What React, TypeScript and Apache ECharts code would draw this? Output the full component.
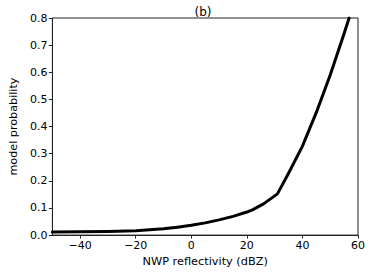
import React, { useEffect, useRef } from "react";
import * as echarts from "echarts";

const reflectivity = [-50, -40, -30, -20, -10, -5, 0, 5, 10, 15, 20, 22, 26, 31, 35, 40, 45, 50, 55, 56.8];
const probability = [0.011, 0.012, 0.013, 0.016, 0.023, 0.029, 0.036, 0.045, 0.056, 0.069, 0.085, 0.093, 0.115, 0.152, 0.228, 0.328, 0.452, 0.59, 0.743, 0.8];
const xTicks = [-40, -20, 0, 20, 40, 60];
const yTicks = [0, 0.1, 0.2, 0.3, 0.4, 0.5, 0.6, 0.7, 0.8];

export default function App() {
  const ref = useRef<HTMLDivElement>(null);
  useEffect(() => {
    if (!ref.current) return;
    const chart = echarts.init(ref.current, undefined, { renderer: "svg" });
    const font = "DejaVu Sans";
    chart.setOption({
      animation: false,
      textStyle: { fontFamily: font },
      title: {
        text: "(b)",
        left: 198,
        top: 1,
        textAlign: "center",
        textStyle: { fontFamily: font, fontSize: 12, fontWeight: "normal", color: "#000" },
      },
      grid: {
        left: 39,
        right: 12,
        top: 18,
        bottom: 33,
        show: true,
        borderColor: "#222",
        borderWidth: 1,
        backgroundColor: "transparent",
      },
      xAxis: {
        type: "value",
        min: -50,
        max: 60,
        name: "NWP reflectivity (dBZ)",
        nameLocation: "middle",
        nameGap: 19,
        nameTextStyle: { fontFamily: font, fontSize: 11.3, color: "#000" },
        axisLine: { show: true, onZero: false, lineStyle: { color: "#222", width: 1 } },
        axisTick: { show: true, length: 3.5, customValues: xTicks, lineStyle: { color: "#222" } },
        axisLabel: {
          customValues: xTicks,
          fontFamily: font,
          fontSize: 11,
          color: "#000",
          margin: 5,
          formatter: (v: number) => String(v).replace("-", "\u2212"),
        },
        splitLine: { show: false },
      },
      yAxis: {
        type: "value",
        min: 0,
        max: 0.8,
        interval: 0.1,
        name: "model probability",
        nameLocation: "middle",
        nameGap: 29,
        nameTextStyle: { fontFamily: font, fontSize: 11.2, color: "#000" },
        axisLine: { show: true, onZero: false, lineStyle: { color: "#222", width: 1 } },
        axisTick: { show: true, length: 3.5, lineStyle: { color: "#222" } },
        axisLabel: {
          customValues: yTicks,
          fontFamily: font,
          fontSize: 11,
          color: "#000",
          margin: 5,
          formatter: (v: number) => v.toFixed(1),
        },
        splitLine: { show: false },
      },
      series: [
        {
          type: "line",
          data: reflectivity.map((x, i) => [x, probability[i]]),
          showSymbol: false,
          smooth: false,
          lineStyle: { color: "#000", width: 3, join: "round", cap: "round" },
          clip: true,
        },
      ],
    });
    return () => chart.dispose();
  }, []);
  return <div ref={ref} style={{ width: 370, height: 272, position: "absolute", left: 0, top: 0 }} />;
}
